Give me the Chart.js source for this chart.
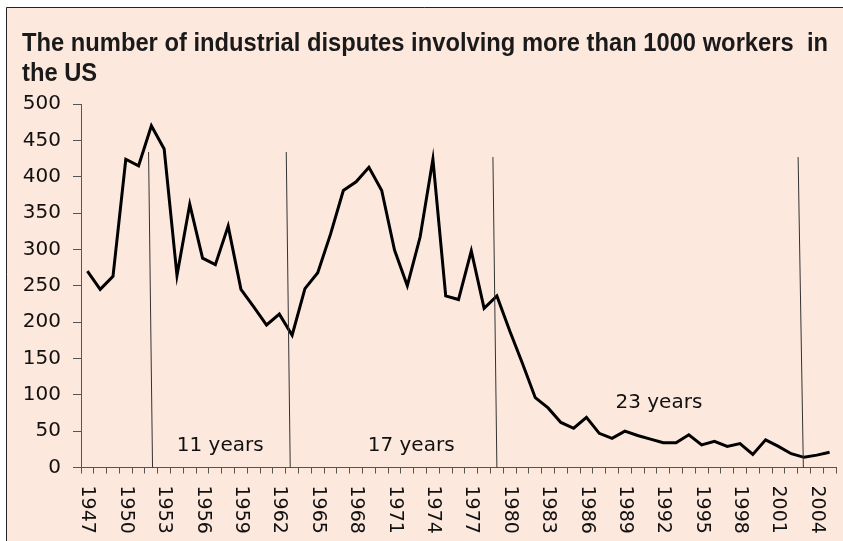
<!DOCTYPE html>
<html>
<head>
<meta charset="utf-8">
<script src="https://cdn.jsdelivr.net/npm/chart.js@4.4.1/dist/chart.umd.min.js"></script>
<style>
  html, body { margin: 0; padding: 0; background: #ffffff; }
  #wrap { width: 843px; height: 541px; position: relative; }
</style>
</head>
<body>
<div id="wrap"><canvas id="c" width="843" height="541"></canvas></div>
<script>
// ---- data ----
const titleLines = ["The number of industrial disputes involving more than 1000 workers  in", "the US"];
const years = [];
for (let y = 1947; y <= 2005; y++) years.push(String(y));
const disputes = [270, 245, 263, 424, 415, 470, 438, 264, 362, 288, 279, 332, 245, 221, 196, 211, 182, 246, 268, 321,
  381, 393, 413, 381, 299, 250, 317, 424, 236, 231, 298, 219, 236, 188, 143, 96, 82, 62, 54, 69,
  47, 40, 50, 44, 39, 34, 34, 45, 31, 36, 29, 33, 18, 38, 29, 19, 14, 17, 21];
const yTicks = [0, 50, 100, 150, 200, 250, 300, 350, 400, 450, 500];
// period divider lines: [x index top, value top, x index bottom, value bottom]
const dividers = [[4.78, 434, 5.09, 0], [15.54, 434, 15.85, 0], [31.69, 427, 32.0, 0], [55.54, 427, 55.95, 0]];
// period labels: [text, x index, value]
const periodLabels = [["11 years", 10.38, 30], ["17 years", 25.3, 30], ["23 years", 44.66, 89]];

const FONT = "'DejaVu Sans', sans-serif";
const TFONT = "'Liberation Sans', Arial, sans-serif";

const bgPlugin = {
  id: 'bg',
  beforeDraw(chart) {
    const ctx = chart.ctx;
    ctx.save();
    ctx.fillStyle = '#ffffff';
    ctx.fillRect(0, 0, chart.width, chart.height);
    ctx.fillStyle = '#fde8de';
    ctx.fillRect(6, 7, chart.width, chart.height);
    ctx.strokeStyle = '#222';
    ctx.lineWidth = 1;
    ctx.beginPath();
    ctx.moveTo(6.5, chart.height);
    ctx.lineTo(6.5, 7.5);
    ctx.lineTo(chart.width, 7.5);
    ctx.stroke();
    ctx.restore();
  }
};

const decoPlugin = {
  id: 'deco',
  afterDatasetsDraw(chart) {
    const ctx = chart.ctx;
    const xs = chart.scales.x, ys = chart.scales.y;
    const px = (i) => xs.getPixelForValue(0) + i * (xs.getPixelForValue(1) - xs.getPixelForValue(0));
    ctx.save();
    ctx.strokeStyle = '#333';
    ctx.lineWidth = 1;
    dividers.forEach(d => {
      ctx.beginPath();
      ctx.moveTo(px(d[0]), ys.getPixelForValue(d[1]));
      ctx.lineTo(px(d[2]), ys.getPixelForValue(d[3]));
      ctx.stroke();
    });
    ctx.fillStyle = '#111';
    ctx.font = "20px " + FONT;
    ctx.textAlign = 'center';
    ctx.textBaseline = 'middle';
    periodLabels.forEach(p => ctx.fillText(p[0], px(p[1]), ys.getPixelForValue(p[2])));
    ctx.restore();
  },
  afterDraw(chart) {
    const ctx = chart.ctx;
    const xs = chart.scales.x;
    ctx.save();
    ctx.fillStyle = '#111';
    ctx.font = "19px " + FONT;
    ctx.textAlign = 'left';
    ctx.textBaseline = 'middle';
    years.forEach((lab, i) => {
      if (i % 3 !== 0) return;
      ctx.save();
      ctx.translate(xs.getPixelForValue(i), xs.top + 18);
      ctx.rotate(Math.PI / 2);
      ctx.fillText(lab, 0, 0);
      ctx.restore();
    });
    ctx.fillStyle = '#1a1a1a';
    ctx.font = "bold 25px " + TFONT;
    ctx.textAlign = 'left';
    ctx.textBaseline = 'alphabetic';
    const w = ctx.measureText(titleLines[0]).width;
    const sx = 806 / w;
    titleLines.forEach((t, k) => {
      ctx.save();
      ctx.translate(22, 51 + k * 30);
      ctx.scale(sx, 1);
      ctx.fillText(t, 0, 0);
      ctx.restore();
    });
    ctx.restore();
  }
};

new Chart(document.getElementById('c'), {
  type: 'line',
  data: {
    labels: years,
    datasets: [{
      data: disputes,
      borderColor: '#000000',
      borderWidth: 3,
      pointRadius: 0,
      tension: 0,
      fill: false
    }]
  },
  options: {
    responsive: false,
    animation: false,
    devicePixelRatio: 1,
    layout: { padding: { top: 104, right: 7, left: 0, bottom: 0 } },
    plugins: { legend: { display: false }, tooltip: { enabled: false }, title: { display: false } },
    scales: {
      x: {
        type: 'category',
        offset: true,
        grid: { display: true, drawOnChartArea: false, offset: true, tickLength: 6, color: '#555', tickWidth: 1 },
        border: { display: true, color: '#555', width: 1 },
        ticks: { display: false },
        afterFit(s) { s.height = 541 - 467.5; }
      },
      y: {
        min: 0, max: 500,
        afterBuildTicks(s) { s.ticks = yTicks.map(v => ({ value: v })); },
        grid: { display: true, drawOnChartArea: false, tickLength: 8, color: '#555', tickWidth: 1 },
        border: { display: true, color: '#555', width: 1 },
        ticks: { color: '#111', font: { family: FONT, size: 20 }, padding: 12 },
        afterFit(s) { s.width = 81; }
      }
    }
  },
  plugins: [bgPlugin, decoPlugin]
});
</script>
</body>
</html>
